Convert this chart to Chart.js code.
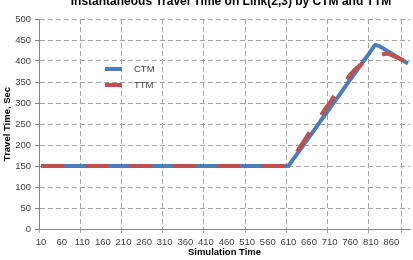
<!DOCTYPE html>
<html>
<head>
<meta charset="utf-8">
<script src="https://cdn.jsdelivr.net/npm/chart.js@4"></script>
<style>
  html, body { margin: 0; padding: 0; background: #fff; }
  #wrap { width: 413px; height: 260px; }
</style>
</head>
<body>
<div id="wrap"><canvas id="chart" width="413" height="260"></canvas></div>
<script>
const ctmColor = 'rgb(74,126,187)';
const ttmColor = 'rgb(192,80,77)';
const gridColor = 'rgb(166,166,166)';
const axisColor = 'rgb(134,134,134)';
const textColor = 'rgb(64,64,64)';
const fontFamily = '"Liberation Sans", Arial, sans-serif';

const chartTitle = 'Instantaneous Travel Time on Link(2,3) by CTM and TTM';
const xTitle = 'Simulation Time';
const yTitle = 'Travel Time, Sec';

// simulation time, every 10 sec
const times = [
    10, 20, 30, 40, 50, 60, 70, 80, 90, 100,
    110, 120, 130, 140, 150, 160, 170, 180, 190, 200,
    210, 220, 230, 240, 250, 260, 270, 280, 290, 300,
    310, 320, 330, 340, 350, 360, 370, 380, 390, 400,
    410, 420, 430, 440, 450, 460, 470, 480, 490, 500,
    510, 520, 530, 540, 550, 560, 570, 580, 590, 600,
    610, 620, 630, 640, 650, 660, 670, 680, 690, 700,
    710, 720, 730, 740, 750, 760, 770, 780, 790, 800,
    810, 820, 830, 840, 850, 860, 870, 880, 890, 900
];

const ctm = [
    150, 150, 150, 150, 150, 150, 150, 150, 150, 150,
    150, 150, 150, 150, 150, 150, 150, 150, 150, 150,
    150, 150, 150, 150, 150, 150, 150, 150, 150, 150,
    150, 150, 150, 150, 150, 150, 150, 150, 150, 150,
    150, 150, 150, 150, 150, 150, 150, 150, 150, 150,
    150, 150, 150, 150, 150, 150, 150, 150, 150, 150,
    150, 164, 177, 191, 205, 218, 232, 246, 260, 273,
    287, 301, 314, 328, 342, 356, 369, 383, 397, 410,
    424, 438, 436, 430, 424, 418, 412, 406, 400, 394
];

const ttm = [
    150, 150, 150, 150, 150, 150, 150, 150, 150, 150,
    150, 150, 150, 150, 150, 150, 150, 150, 150, 150,
    150, 150, 150, 150, 150, 150, 150, 150, 150, 150,
    150, 150, 150, 150, 150, 150, 150, 150, 150, 150,
    150, 150, 150, 150, 150, 150, 150, 150, 150, 150,
    150, 150, 150, 150, 150, 150, 150, 150, 150, 150,
    150, 167, 183, 198, 213, 228, 242, 257, 272, 287,
    300, 315, 328, 341, 354, 367, 378, 387, 395, 401,
    405, 409, 413, 416, 418, 414, 410, 405, 401, 397
];

const yTicks = [0, 50, 100, 150, 200, 250, 300, 350, 400, 450, 500];

// title sits above the (cropped) top edge, legend floats inside the plot
const overlayPlugin = {
    id: 'overlay',
    afterDraw: (chart) => {
        const ctx = chart.ctx;
        ctx.save();
        ctx.fillStyle = '#000';
        ctx.font = 'bold 12px ' + fontFamily;
        ctx.textAlign = 'center';
        ctx.textBaseline = 'alphabetic';
        ctx.fillText(chartTitle, 231, 5);

        ctx.font = '9.5px ' + fontFamily;
        ctx.textAlign = 'left';
        ctx.textBaseline = 'middle';
        chart.data.datasets.forEach((ds, i) => {
            const y = 69 + i * 16;
            ctx.beginPath();
            ctx.moveTo(105, y);
            ctx.lineTo(122, y);
            ctx.lineWidth = 4;
            ctx.strokeStyle = ds.borderColor;
            ctx.stroke();
            ctx.fillStyle = textColor;
            ctx.fillText(ds.label, 134, y);
        });
        ctx.restore();
    }
};

const xGrid = (c) => (c.index % 10 === 0 || c.index === 88) ? gridColor : 'rgba(0,0,0,0)';

const config = {
    type: 'line',
    data: {
        labels: times,
        datasets: [
            {
                label: 'CTM',
                data: ctm,
                borderColor: ctmColor,
                backgroundColor: ctmColor,
                borderWidth: 4,
                borderJoinStyle: 'round',
                pointRadius: 0,
                tension: 0,
                order: 2
            },
            {
                label: 'TTM',
                data: ttm,
                borderColor: ttmColor,
                backgroundColor: ttmColor,
                borderWidth: 4,
                borderDash: [23, 21],
                pointRadius: 0,
                tension: 0,
                order: 1
            }
        ]
    },
    options: {
        responsive: false,
        animation: false,
        layout: { padding: { top: 19, right: 3, left: 0, bottom: 0 } },
        plugins: {
            legend: { display: false },
            title: { display: false },
            tooltip: { enabled: false }
        },
        scales: {
            x: {
                type: 'category',
                offset: true,
                grid: { offset: true, color: xGrid, tickColor: xGrid, tickLength: 4 },
                border: { color: axisColor, dash: [5, 3] },
                ticks: {
                    autoSkip: false,
                    maxRotation: 0,
                    minRotation: 0,
                    padding: 4,
                    color: textColor,
                    font: { family: fontFamily, size: 9.5 },
                    callback: (v, i) => i % 5 === 0 ? times[i] : ''
                },
                title: {
                    display: true,
                    text: xTitle,
                    color: '#000',
                    font: { family: fontFamily, size: 9.5, weight: 'bold' },
                    padding: { top: 0, bottom: 1.5 }
                },
                afterFit: (s) => { s.height = 31; }
            },
            y: {
                min: 0,
                max: 500,
                afterBuildTicks: (s) => { s.ticks = yTicks.map(v => ({ value: v })); },
                grid: { color: gridColor, tickColor: axisColor, tickLength: 4 },
                border: { color: axisColor, dash: [5, 3] },
                ticks: {
                    padding: 4,
                    color: textColor,
                    font: { family: fontFamily, size: 9.5 }
                },
                title: {
                    display: true,
                    text: yTitle,
                    color: '#000',
                    font: { family: fontFamily, size: 9.5, weight: 'bold' },
                    padding: { top: 2, bottom: 0 }
                },
                afterFit: (s) => { s.width = 39; }
            }
        }
    },
    plugins: [overlayPlugin]
};

new Chart(document.getElementById('chart'), config);
</script>
</body>
</html>
